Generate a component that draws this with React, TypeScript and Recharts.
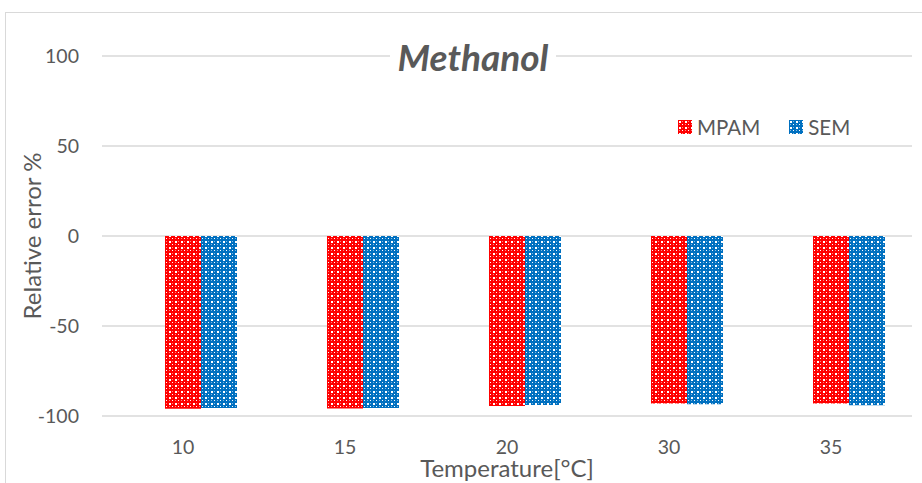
import { Bar, BarChart, CartesianGrid, Legend, XAxis, YAxis } from 'recharts'

const temperatures = ['10', '15', '20', '30', '35']
// Excel left an empty first series, which is why MPAM sits on the tick and SEM to its right
const blankSeries = [null, null, null, null, null]
const mpamErrors = [-96, -95.8, -94.4, -93, -93]
const semErrors = [-95.6, -95.6, -93.9, -93.5, -94]
const yTicks = [-100, -50, 0, 50, 100]

const FONT = 'Lato, "Liberation Sans", sans-serif'
const TEXT = '#595959'

const rows = temperatures.map((t, i) => ({ t, blank: blankSeries[i], mpam: mpamErrors[i], sem: semErrors[i] }))

function LegendBox() {
  const item = (label: string, fill: string) => (
    <span style={{ display: 'inline-flex', alignItems: 'center', marginRight: 29 }}>
      <svg width={14} height={14} style={{ marginRight: 5 }}>
        <rect width={14} height={14} fill={fill} />
      </svg>
      {label}
    </span>
  )
  return (
    <div style={{ fontFamily: FONT, fontSize: 20.5, color: TEXT, display: 'flex' }}>
      {item('MPAM', 'url(#chkRed)')}
      {item('SEM', 'url(#chkBlue)')}
    </div>
  )
}

function checker(id: string, color: string) {
  return (
    <pattern id={id} width={6} height={6} patternUnits="userSpaceOnUse">
      <rect width={6} height={6} fill={color} />
      <rect x={1} y={1} width={2} height={2} fill="#fff" />
      <rect x={4} y={4} width={1} height={1} fill="#fff" />
      <rect x={4} y={1} width={1} height={1} fill="#fff" opacity={0.5} />
      <rect x={1} y={4} width={1} height={1} fill="#fff" opacity={0.5} />
    </pattern>
  )
}

export default function App() {
  return (
    <div style={{ position: 'absolute', left: 0, top: 0, width: 922, height: 483, background: '#fff', overflow: 'hidden' }}>
      <div
        style={{
          position: 'absolute',
          left: 5,
          top: 12,
          width: 930,
          height: 490,
          borderLeft: '1.5px solid #d9d9d9',
          borderTop: '1.5px solid #d9d9d9',
        }}
      />
      <svg width={0} height={0} style={{ position: 'absolute' }}>
        <defs>
          {checker('chkRed', '#ff0000')}
          {checker('chkBlue', '#0070c0')}
        </defs>
      </svg>
      <BarChart
        width={922}
        height={483}
        data={rows}
        margin={{ top: 56, right: 10, bottom: 0, left: 42 }}
        barGap={0}
        barSize={36}
        style={{ position: 'absolute', left: 0, top: 0 }}
      >
        <CartesianGrid vertical={false} stroke="#d9d9d9" strokeWidth={1.5} />
        <XAxis
          dataKey="t"
          height={67}
          axisLine={false}
          tickLine={false}
          tickMargin={18}
          tick={{ fill: TEXT, fontSize: 19.5, fontFamily: FONT }}
          label={{
            value: 'Temperature[°C]',
            position: 'insideBottom',
            offset: 6,
            fill: TEXT,
            fontSize: 24,
            fontFamily: FONT,
          }}
        />
        <YAxis
          width={60}
          domain={[-100, 100]}
          ticks={yTicks}
          axisLine={false}
          tickLine={false}
          tickMargin={17}
          tick={{ fill: TEXT, fontSize: 19.5, fontFamily: FONT }}
          label={{
            value: 'Relative error %',
            angle: -90,
            position: 'insideLeft',
            offset: -10,
            style: { textAnchor: 'middle' },
            fill: TEXT,
            fontSize: 24,
            fontFamily: FONT,
          }}
        />
        <Legend
          layout="horizontal"
          verticalAlign="middle"
          content={() => <LegendBox />}
          wrapperStyle={{ position: 'absolute', top: 115, left: 678, width: 240 }}
        />
        <Bar dataKey="blank" fill="none" legendType="none" isAnimationActive={false} />
        <Bar dataKey="mpam" name="MPAM" fill="url(#chkRed)" isAnimationActive={false} />
        <Bar dataKey="sem" name="SEM" fill="url(#chkBlue)" isAnimationActive={false} />
      </BarChart>
      <div
        style={{
          position: 'absolute',
          left: 390,
          top: 36,
          width: 166,
          textAlign: 'center',
          background: '#fff',
          fontFamily: FONT,
          fontSize: 37,
          fontWeight: 700,
          fontStyle: 'italic',
          color: TEXT,
          lineHeight: '42px',
          whiteSpace: 'nowrap',
        }}
      >
        Methanol
      </div>
    </div>
  )
}
